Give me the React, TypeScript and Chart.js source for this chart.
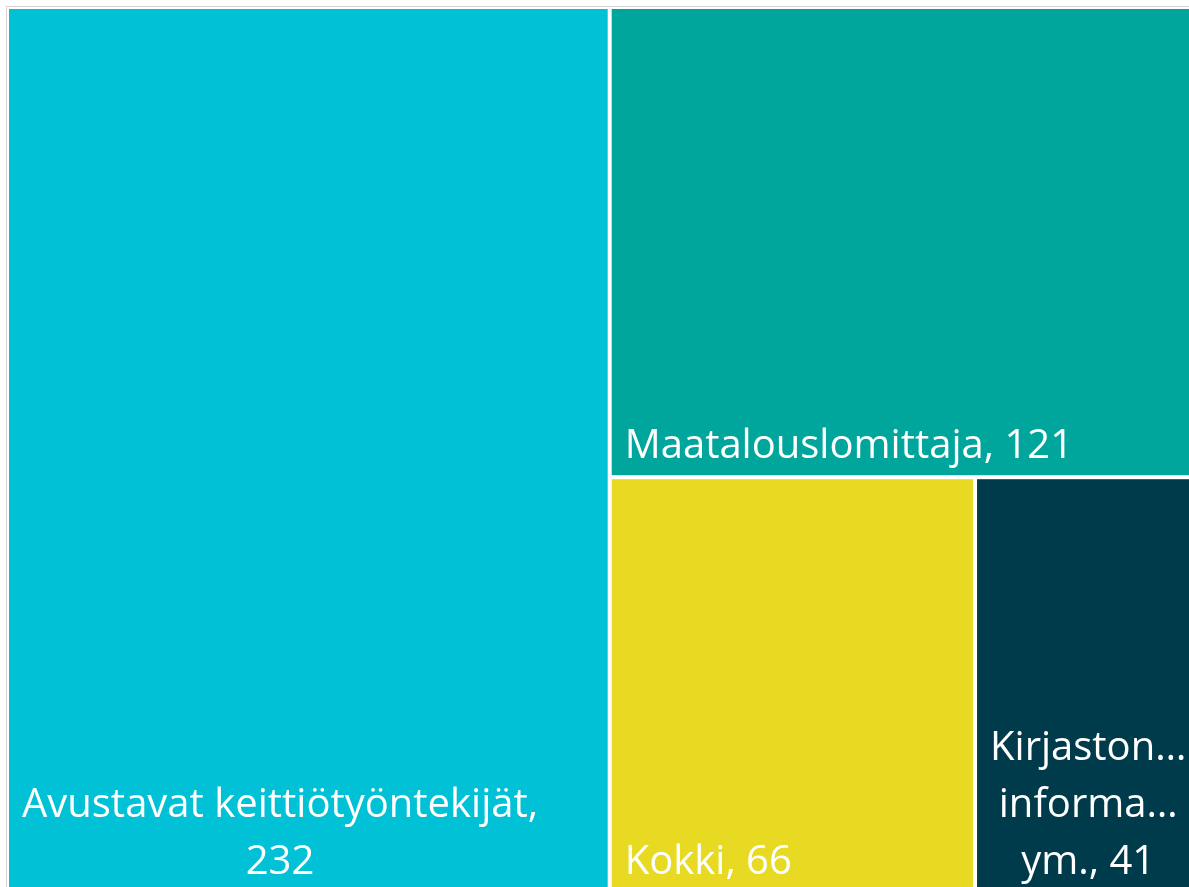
import React, { useEffect, useRef } from "react";
import { Chart, registerables } from "chart.js";

Chart.register(...registerables);

// ---- data ----
const categories: string[] = [
  "Avustavat keittiötyöntekijät",
  "Maatalouslomittaja",
  "Kokki",
  "Kirjastonhoitajat, informaatikot ym.",
];
const values: number[] = [232, 121, 66, 41];
const colors: string[] = ["#01C1D6", "#00A59B", "#E8DA23", "#003B4C"];

const FONT_SIZE = 40;
const FONT = `400 ${FONT_SIZE}px "Open Sans", "Noto Sans", sans-serif`;
const LINE_H = 57;
const PAD_X = 13;
const PAD_BOTTOM = 17;
const GAP = 2;

type Rect = { x: number; y: number; w: number; h: number };

function sum(a: number[]) {
  return a.reduce((s, v) => s + v, 0);
}

function worst(row: number[], side: number) {
  const s = sum(row);
  const mx = Math.max(...row);
  const mn = Math.min(...row);
  return Math.max((side * side * mx) / (s * s), (s * s) / (side * side * mn));
}

function squarify(vals: number[], rect: Rect): Rect[] {
  const total = sum(vals);
  const areas = vals.map((v) => (v * rect.w * rect.h) / total);
  const out: Rect[] = [];
  let r = { ...rect };
  let i = 0;
  while (i < areas.length) {
    const side = Math.min(r.w, r.h);
    const row = [areas[i]];
    let j = i + 1;
    while (j < areas.length && worst([...row, areas[j]], side) <= worst(row, side)) {
      row.push(areas[j]);
      j++;
    }
    const s = sum(row);
    if (r.w >= r.h) {
      const cw = s / r.h;
      let y = r.y;
      for (const a of row) {
        const h = a / cw;
        out.push({ x: r.x, y, w: cw, h });
        y += h;
      }
      r = { x: r.x + cw, y: r.y, w: r.w - cw, h: r.h };
    } else {
      const rh = s / r.w;
      let x = r.x;
      for (const a of row) {
        const w = a / rh;
        out.push({ x, y: r.y, w, h: rh });
        x += w;
      }
      r = { x: r.x, y: r.y + rh, w: r.w, h: r.h - rh };
    }
    i = j;
  }
  return out;
}

function wrapText(ctx: CanvasRenderingContext2D, text: string, maxW: number): string[] {
  const words = text.split(" ");
  const lines: string[] = [];
  let cur = "";
  const fit = (w: string) => {
    if (ctx.measureText(w).width <= maxW) return w;
    let k = w.length;
    while (k > 1 && ctx.measureText(w.slice(0, k) + "…").width > maxW) k--;
    return w.slice(0, k) + "…";
  };
  for (const w of words) {
    const test = cur ? cur + " " + w : w;
    if (ctx.measureText(test).width <= maxW) {
      cur = test;
    } else {
      if (cur) lines.push(cur);
      cur = fit(w);
    }
  }
  if (cur) lines.push(cur);
  return lines;
}

const treemapPlugin = {
  id: "treemapCells",
  afterDatasetsDraw(chart: any) {
    const { ctx, chartArea } = chart;
    const xs = chart.scales.x;
    const ys = chart.scales.y;
    const aspect = chartArea.width / chartArea.height;
    const cells = squarify(values, { x: 0, y: 0, w: aspect, h: 1 });
    ctx.save();
    cells.forEach((c, i) => {
      const x0 = xs.getPixelForValue(c.x / aspect) + GAP;
      const x1 = xs.getPixelForValue((c.x + c.w) / aspect) - GAP;
      const y0 = ys.getPixelForValue(c.y) + GAP;
      const y1 = ys.getPixelForValue(c.y + c.h) - GAP;
      ctx.fillStyle = colors[i];
      ctx.fillRect(x0, y0, x1 - x0, y1 - y0);

      ctx.save();
      ctx.beginPath();
      ctx.rect(x0, y0, x1 - x0, y1 - y0);
      ctx.clip();
      ctx.font = FONT;
      ctx.fillStyle = "#FFFFFF";
      ctx.textBaseline = "alphabetic";
      ctx.textAlign = "center";
      const label = `${categories[i]}, ${values[i]}`;
      const maxW = x1 - x0 - 2 * PAD_X;
      const lines = wrapText(ctx, label, maxW);
      const blockW = Math.max(...lines.map((l) => ctx.measureText(l).width));
      const cx = x0 + PAD_X + blockW / 2;
      lines.forEach((l, k) => {
        const by = y1 - PAD_BOTTOM - (lines.length - 1 - k) * LINE_H;
        ctx.fillText(l, cx, by);
      });
      ctx.restore();
    });
    ctx.restore();
  },
};

export default function App() {
  const ref = useRef<HTMLCanvasElement | null>(null);
  useEffect(() => {
    if (!ref.current) return;
    const chart = new Chart(ref.current, {
      type: "scatter",
      data: {
        datasets: [
          {
            label: "Ammatit",
            data: values.map((v, i) => ({ x: i, y: v })),
            pointRadius: 0,
            showLine: false,
          },
        ],
      },
      options: {
        responsive: false,
        animation: false,
        events: [],
        layout: { padding: 0 },
        plugins: {
          legend: { display: false },
          tooltip: { enabled: false },
          title: { display: false },
        },
        scales: {
          x: { type: "linear", min: 0, max: 1, display: false },
          y: { type: "linear", min: 0, max: 1, reverse: true, display: false },
        },
      },
      plugins: [treemapPlugin],
    });
    return () => chart.destroy();
  }, []);

  return (
    <div
      style={{
        position: "fixed",
        left: 0,
        top: 0,
        width: "100vw",
        height: "100vh",
        overflow: "hidden",
        background: "#fff",
      }}
    >
      <div
        style={{
          position: "absolute",
          left: 6,
          top: 6,
          borderTop: "1px solid #d3d3d3",
          borderLeft: "1px solid #d3d3d3",
          width: 1300,
          height: 1000,
        }}
      >
        <canvas
          ref={ref}
          width={1195}
          height={886}
          style={{ display: "block", width: 1195, height: 886 }}
        />
      </div>
    </div>
  );
}
